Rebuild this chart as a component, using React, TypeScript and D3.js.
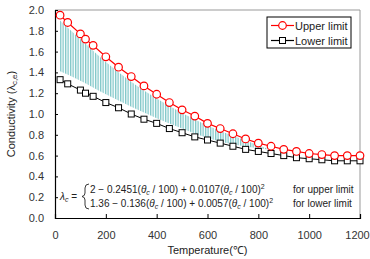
import React, { useEffect, useRef } from 'react';
import * as d3 from 'd3';

// temperatures (°C) of the plotted points
const temps = [20, 50, 100, 120, 150, 200, 250, 300, 350, 400, 450, 500, 550, 600, 650, 700, 750, 800, 850, 900, 950, 1000, 1050, 1100, 1150, 1200];
const upperLimit = [1.95, 1.88, 1.77, 1.72, 1.66, 1.55, 1.45, 1.36, 1.27, 1.19, 1.11, 1.04, 0.98, 0.91, 0.86, 0.81, 0.76, 0.72, 0.69, 0.66, 0.64, 0.62, 0.61, 0.6, 0.6, 0.6];
const lowerLimit = [1.33, 1.29, 1.23, 1.2, 1.17, 1.11, 1.06, 1.0, 0.95, 0.91, 0.86, 0.82, 0.78, 0.75, 0.72, 0.69, 0.66, 0.64, 0.62, 0.6, 0.58, 0.57, 0.56, 0.55, 0.55, 0.55];

// hatched band
const bandTemps = [20, 100, 200, 300, 400, 500, 600, 700, 800, 860];
const bandTop = [1.9, 1.72, 1.5, 1.31, 1.15, 1.01, 0.89, 0.79, 0.7, 0.65];
const bandBottom = [1.41, 1.32, 1.19, 1.07, 0.96, 0.86, 0.77, 0.71, 0.67, 0.65];

const xTicks = [0, 200, 400, 600, 800, 1000, 1200];
const yTicks = [0, 0.2, 0.4, 0.6, 0.8, 1.0, 1.2, 1.4, 1.6, 1.8, 2.0];

const App = () => {
    const ref = useRef<SVGSVGElement>(null);

    useEffect(() => {
        const svg = d3.select(ref.current);
        svg.selectAll('*').remove();
        const left = 55, right = 360, top = 10, bottom = 218;
        const x = d3.scaleLinear().domain([0, 1200]).range([left, right]);
        const y = d3.scaleLinear().domain([0, 2]).range([bottom, top]);
        const font = 'Liberation Sans, Arial, sans-serif';

        const defs = svg.append('defs');
        const pat = defs.append('pattern')
            .attr('id', 'hatch')
            .attr('patternUnits', 'userSpaceOnUse')
            .attr('width', 2.5)
            .attr('height', 10);
        pat.append('rect').attr('width', 2.5).attr('height', 10).attr('fill', '#ffffff');
        pat.append('rect').attr('width', 1.3).attr('height', 10).attr('fill', '#7fc6c8');

        // hatched area
        const band = bandTemps.map((t, i) => ({ t, hi: bandTop[i], lo: bandBottom[i] }));
        svg.append('path')
            .datum(band)
            .attr('d', d3.area<any>().x(d => x(d.t)).y0(d => y(d.lo)).y1(d => y(d.hi)).curve(d3.curveMonotoneX))
            .attr('fill', 'url(#hatch)');

        // frame
        svg.append('path')
            .attr('d', `M${left},${top}H${right}V${bottom}`)
            .attr('fill', 'none').attr('stroke', '#999').attr('stroke-width', 1);

        // axes
        const gx = svg.append('g').attr('transform', `translate(0,${bottom})`)
            .call(d3.axisBottom(x).tickValues(xTicks).tickSize(-4).tickPadding(13).tickFormat(d3.format('d')));
        const gy = svg.append('g').attr('transform', `translate(${left},0)`)
            .call(d3.axisLeft(y).tickValues(yTicks).tickSize(-3).tickPadding(11).tickFormat(d3.format('.1f')));
        [gx, gy].forEach(g => {
            g.select('.domain').attr('stroke', '#000').attr('stroke-width', 1.2);
            g.selectAll('.tick line').attr('stroke', '#000');
            g.selectAll('.tick text').attr('fill', '#333').attr('font-size', 11).attr('font-family', font);
        });
        gx.selectAll('.tick text').filter((d: any) => d === 1200).attr('dx', -3);

        // series
        const up = temps.map((t, i) => ({ t, v: upperLimit[i] }));
        const lo = temps.map((t, i) => ({ t, v: lowerLimit[i] }));
        const line = d3.line<any>().x(d => x(d.t)).y(d => y(d.v));

        svg.append('path').datum(lo).attr('d', line).attr('fill', 'none').attr('stroke', '#000').attr('stroke-width', 1);
        svg.append('g').selectAll('rect').data(lo).enter().append('rect')
            .attr('x', d => x(d.t) - 3).attr('y', d => y(d.v) - 3)
            .attr('width', 6).attr('height', 6)
            .attr('fill', '#fff').attr('stroke', '#000').attr('stroke-width', 1);

        svg.append('path').datum(up).attr('d', line).attr('fill', 'none').attr('stroke', '#ff0000').attr('stroke-width', 1.2);
        svg.append('g').selectAll('circle').data(up).enter().append('circle')
            .attr('cx', d => x(d.t)).attr('cy', d => y(d.v)).attr('r', 3.8)
            .attr('fill', '#fff').attr('stroke', '#ff0000').attr('stroke-width', 1.2);

        // legend
        const lg = svg.append('g');
        lg.append('rect').attr('x', 267).attr('y', 17).attr('width', 84).attr('height', 31)
            .attr('fill', '#fff').attr('stroke', '#000').attr('stroke-width', 1);
        const items = [
            { name: 'Upper limit', color: '#ff0000', shape: 'circle' },
            { name: 'Lower limit', color: '#000', shape: 'square' },
        ];
        items.forEach((it, i) => {
            const cy = 25.5 + i * 15;
            lg.append('line').attr('x1', 271).attr('x2', 294).attr('y1', cy).attr('y2', cy)
                .attr('stroke', it.color).attr('stroke-width', 1.2);
            if (it.shape === 'circle') {
                lg.append('circle').attr('cx', 282.5).attr('cy', cy).attr('r', 3.8)
                    .attr('fill', '#fff').attr('stroke', it.color).attr('stroke-width', 1.2);
            } else {
                lg.append('rect').attr('x', 279.5).attr('y', cy - 3).attr('width', 6).attr('height', 6)
                    .attr('fill', '#fff').attr('stroke', it.color);
            }
            lg.append('text').attr('x', 295).attr('y', cy + 4).text(it.name)
                .attr('font-size', 11).attr('font-family', font).attr('fill', '#222');
        });

        // axis titles
        svg.append('text').attr('x', (left + right) / 2).attr('y', 254).attr('text-anchor', 'middle')
            .attr('font-size', 11).attr('font-family', font).attr('fill', '#222').text('Temperature(℃)');
        const yt = svg.append('text').attr('transform', `translate(15,${(top + bottom) / 2}) rotate(-90)`)
            .attr('text-anchor', 'middle').attr('font-size', 11).attr('font-family', font).attr('fill', '#222');
        yt.append('tspan').text('Conductivity (λ');
        yt.append('tspan').attr('font-size', 8).attr('dy', 2).text('c,e');
        yt.append('tspan').attr('dy', -2).text(')');

        // formula
        const fg = svg.append('g').attr('font-family', font).attr('font-size', 10).attr('fill', '#222');
        const lam = fg.append('text').attr('x', 60).attr('y', 200);
        lam.append('tspan').attr('font-style', 'italic').text('λ');
        lam.append('tspan').attr('font-style', 'italic').attr('font-size', 7).attr('dy', 2).text('c');
        lam.append('tspan').attr('dy', -2).text(' =');
        fg.append('path').attr('d', 'M89,184 Q85,184 85,188 L85,193 Q85,196 82,196.5 Q85,197 85,200 L85,205 Q85,209 89,209')
            .attr('fill', 'none').attr('stroke', '#222').attr('stroke-width', 0.9);
        const rows = [
            { a: '2 − 0.2451(', b: ' / 100) + 0.0107(', c: ' / 100)', label: 'for upper limit' },
            { a: '1.36 − 0.136(', b: ' / 100) + 0.0057(', c: ' / 100)', label: 'for lower limit' },
        ];
        rows.forEach((r, i) => {
            const by = 193 + i * 14;
            const t = fg.append('text').attr('x', 90).attr('y', by);
            t.append('tspan').text(r.a);
            t.append('tspan').attr('font-style', 'italic').text('θ');
            t.append('tspan').attr('font-size', 7).attr('font-style', 'italic').attr('dy', 2).text('c');
            t.append('tspan').attr('dy', -2).text(r.b);
            t.append('tspan').attr('font-style', 'italic').text('θ');
            t.append('tspan').attr('font-size', 7).attr('font-style', 'italic').attr('dy', 2).text('c');
            t.append('tspan').attr('dy', -2).text(r.c);
            t.append('tspan').attr('font-size', 7).attr('dy', -4).text('2');
            fg.append('text').attr('x', 293).attr('y', by).text(r.label);
        });
    }, []);

    return (
        <svg ref={ref} width={370} height={259}
            style={{ position: 'absolute', left: 0, top: 0, background: '#fff' }} />
    );
};

export default App;
